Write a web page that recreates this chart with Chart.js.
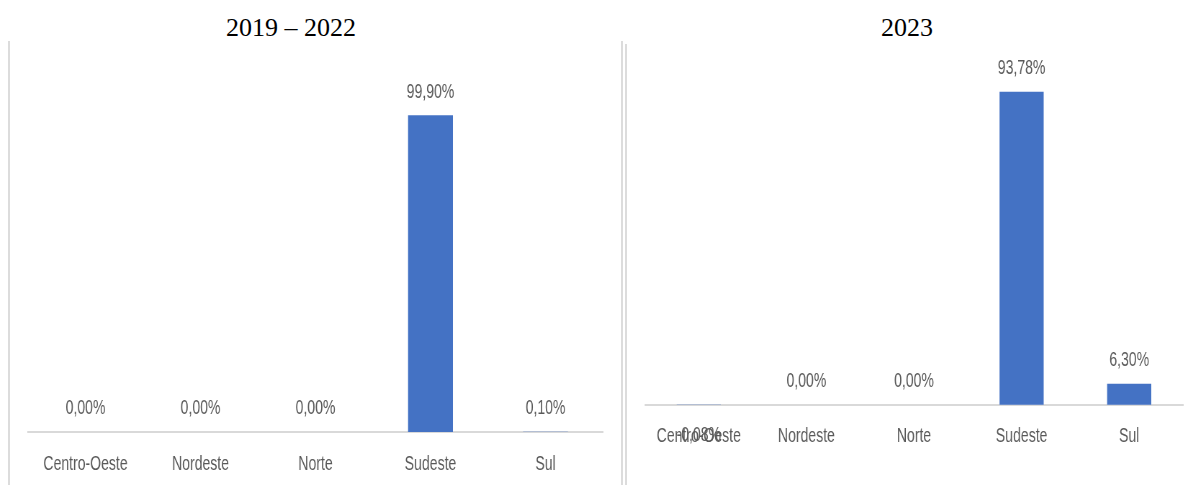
<!DOCTYPE html>
<html>
<head>
<meta charset="utf-8">
<script src="https://cdn.jsdelivr.net/npm/chart.js@4.4.1/dist/chart.umd.min.js"></script>
<style>
    body { margin: 0; background: #fff; }
    #page { position: relative; width: 1193px; height: 485px; overflow: hidden; background: #fff; }
    .title { position: absolute; top: 10px; font-family: "Liberation Serif", "Times New Roman", serif; font-size: 26px; color: #000; text-align: center; line-height: 36px; }
    .rule { position: absolute; width: 2px; background: #dcdcdc; }
    canvas { position: absolute; }
</style>
</head>
<body>
<div id="page">
    <div class="title" style="left:191px;width:200px;">2019 – 2022</div>
    <div class="title" style="left:807px;width:200px;">2023</div>
    <div class="rule" style="left:8px;top:41px;height:444px;"></div>
    <div class="rule" style="left:621px;top:41px;height:444px;"></div>
    <div class="rule" style="left:625px;top:44px;height:441px;"></div>
    <canvas id="chartPeriod" style="left:10px;top:40px;"></canvas>
    <canvas id="chartYear" style="left:628px;top:40px;"></canvas>
</div>
<script>
// regions and share of each one (%)
const regioes = ['Centro-Oeste', 'Nordeste', 'Norte', 'Sudeste', 'Sul'];
const valores2019a2022 = [0.00, 0.00, 0.00, 99.90, 0.10];
const valores2023 = [-0.08, 0.00, 0.00, 93.78, 6.30];

const labelFont = '"Liberation Sans", Arial, sans-serif';
const textColor = '#595959';
const barColor = '#4472C4';
// canvases are drawn wider and shown narrower so the text looks condensed
const SQUEEZE = 0.72;

// format number as pt-BR percent: 0,00%
function fmtPct(v) {
    return v.toFixed(2).replace('.', ',') + '%';
}

// draws the value above each bar (below when negative)
const barLabels = {
    id: 'barLabels',
    afterDatasetsDraw(chart) {
        const ctx = chart.ctx;
        const meta = chart.getDatasetMeta(0);
        const values = chart.data.datasets[0].data;
        ctx.save();
        ctx.font = '19.5px ' + labelFont;
        ctx.fillStyle = textColor;
        ctx.textAlign = 'center';
        ctx.textBaseline = 'middle';
        meta.data.forEach((bar, i) => {
            const v = values[i];
            const y = v < 0 ? bar.base + 31 : bar.y - 23;
            ctx.fillText(fmtPct(v), bar.x, y);
        });
        ctx.restore();
    }
};

function makeChart(id, values, opts) {
    const canvas = document.getElementById(id);
    canvas.width = Math.round(opts.width / SQUEEZE);
    canvas.height = opts.height;
    canvas.style.width = opts.width + 'px';
    canvas.style.height = opts.height + 'px';
    const pad = opts.padding;
    return new Chart(canvas, {
        type: 'bar',
        data: {
            labels: regioes,
            datasets: [{
                data: values,
                backgroundColor: barColor,
                borderWidth: 0,
                categoryPercentage: 1,
                barPercentage: opts.barPct
            }]
        },
        options: {
            responsive: false,
            animation: false,
            events: [],
            layout: {
                padding: {
                    left: pad.left / SQUEEZE,
                    right: pad.right / SQUEEZE,
                    top: pad.top,
                    bottom: 0
                }
            },
            plugins: {
                legend: { display: false },
                tooltip: { enabled: false }
            },
            scales: {
                x: {
                    grid: { display: false, drawTicks: false },
                    border: { display: true, color: '#d9d9d9', width: 2 },
                    ticks: {
                        color: textColor,
                        font: { family: labelFont, size: 19.5 },
                        padding: opts.tickPad,
                        maxRotation: 0,
                        autoSkip: false
                    },
                    afterFit: (scale) => { scale.height = opts.axisHeight; }
                },
                y: {
                    display: false,
                    min: opts.min,
                    max: 100
                }
            }
        },
        plugins: [barLabels]
    });
}

makeChart('chartPeriod', valores2019a2022, {
    width: 610, height: 445,
    padding: { left: 18, right: 17, top: 75 },
    axisHeight: 53,
    tickPad: 21,
    barPct: 0.39,
    min: 0
});

makeChart('chartYear', valores2023, {
    width: 565, height: 445,
    padding: { left: 17, right: 10, top: 31 },
    axisHeight: 80,
    tickPad: 20,
    barPct: 0.41,
    min: -0.1
});
</script>
</body>
</html>
